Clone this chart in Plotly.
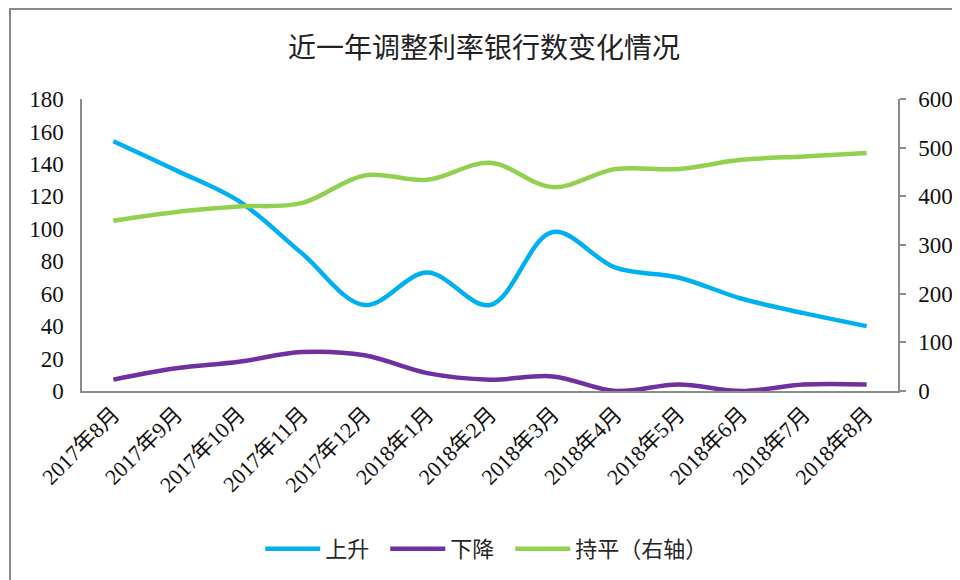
import plotly.graph_objects as go

months = ["2017年8月", "2017年9月", "2017年10月", "2017年11月", "2017年12月", "2018年1月",
          "2018年2月", "2018年3月", "2018年4月", "2018年5月", "2018年6月", "2018年7月", "2018年8月"]
rise = [154, 136, 117, 85, 53, 73, 53, 98, 76, 70, 57, 48, 40]
fall = [7, 14, 18, 24, 22, 11, 7, 9, 0, 4, 0, 4, 4]
flat = [350, 368, 379, 386, 443, 434, 469, 419, 456, 456, 475, 482, 489]

series_names = ["上升", "下降", "持平（右轴）"]

left_ticks = [0, 20, 40, 60, 80, 100, 120, 140, 160, 180]
right_ticks = [0, 100, 200, 300, 400, 500, 600]

SERIF = "Liberation Serif, Times New Roman, Noto Sans CJK SC, serif"
CJK = "Noto Sans CJK SC, sans-serif"

# page has an 8px body margin; figure is sized so it ends at the window edge
W, H = 952, 572
L, R, T, B = 74, 62, 91, 189
PW, PH = W - L - R, H - T - B

x = list(range(len(months)))
PAD = "\u2002"

fig = go.Figure()
fig.add_trace(go.Scatter(x=x, y=rise, name=series_names[0] + PAD, mode="lines",
                         line=dict(color="#00B0F0", width=4.5, shape="spline", smoothing=1.0)))
fig.add_trace(go.Scatter(x=x, y=fall, name=series_names[1] + PAD, mode="lines",
                         line=dict(color="#7030A0", width=4.5, shape="spline", smoothing=1.0)))
fig.add_trace(go.Scatter(x=x, y=flat, name=series_names[2], mode="lines", yaxis="y2",
                         line=dict(color="#92D050", width=4.5, shape="spline", smoothing=1.0)))

fig.update_layout(
    width=W, height=H,
    margin=dict(l=L, r=R, t=T, b=B, autoexpand=False),
    paper_bgcolor="white", plot_bgcolor="white",
    title=dict(text="近一年调整利率银行数变化情况", x=0.5, xanchor="center",
               y=1 - 40 / H, yanchor="middle",
               font=dict(family=CJK, size=28, color="#222222")),
    xaxis=dict(range=[-0.5, len(months) - 0.5], tickmode="array", tickvals=x, ticktext=months,
               tickangle=-45, showgrid=False, zeroline=False, showline=True,
               linecolor="#8c8c8c", linewidth=1.5, ticks="",
               tickfont=dict(family=SERIF, size=22, color="#111111")),
    yaxis=dict(range=[0, 180], tickmode="array", tickvals=left_ticks, showgrid=False,
               zeroline=False, showline=True, linecolor="#8c8c8c", linewidth=1.5, ticks="",
               ticklabelstandoff=12,
               tickfont=dict(family=SERIF, size=23, color="#111111")),
    yaxis2=dict(range=[0, 600], tickmode="array", tickvals=right_ticks, overlaying="y",
                side="right", showgrid=False, zeroline=False, showline=True,
                linecolor="#8c8c8c", linewidth=1.5, ticks="outside", ticklen=6,
                tickcolor="#8c8c8c", tickwidth=1.5, ticklabelstandoff=8,
                tickfont=dict(family=SERIF, size=23, color="#111111")),
    legend=dict(orientation="h", x=0.496, xanchor="center", y=(383 - 541) / PH, yanchor="middle",
                font=dict(family=CJK, size=22, color="#262626"), itemwidth=55,
                tracegroupgap=0, bgcolor="rgba(0,0,0,0)"),
    showlegend=True,
)

fig.add_shape(type="rect", xref="paper", yref="paper",
              x0=(2 - L) / PW, x1=(W + 20 - L) / PW,
              y0=(H - B - (H + 20)) / PH, y1=(H - B - 1) / PH,
              line=dict(color="#8a8a8a", width=2), fillcolor="rgba(0,0,0,0)", layer="below")

fig.write_html("out.html")
